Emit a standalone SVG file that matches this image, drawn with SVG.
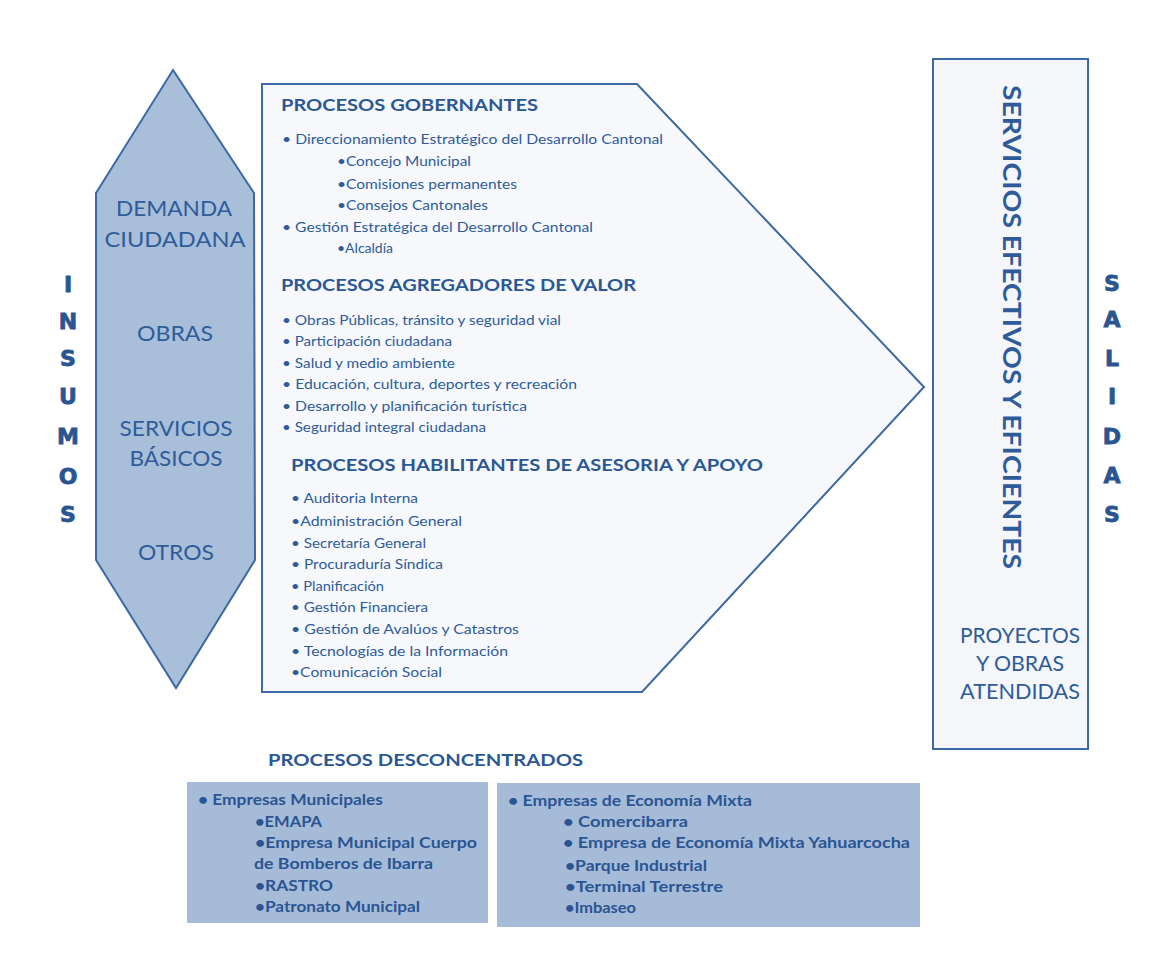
<svg xmlns="http://www.w3.org/2000/svg" width="1157" height="968" viewBox="0 0 1157 968">
<style>
.t{font-family:Lato,"Open Sans","Liberation Sans",sans-serif;fill:#2e5c9a}
.b{font-size:14px}
.h{font-size:17px;font-weight:bold;fill:#2b5894}
.k{font-size:21px;text-anchor:middle}
.big{font-family:"DejaVu Sans","Liberation Sans",sans-serif;font-size:22px;font-weight:bold;text-anchor:middle;fill:#2a5590;stroke:#2a5590;stroke-width:0.8}
.d{font-size:14.5px;font-weight:bold;fill:#2a5593}
.edge{stroke:#3b69a5;stroke-width:2;stroke-linejoin:miter}
</style>
<rect width="1157" height="968" fill="#ffffff"/>
<g id="connectors"/>

<g id="insumos-label">
<text class="big" x="68" y="292">I</text>
<text class="big" x="68" y="329">N</text>
<text class="big" x="68" y="366">S</text>
<text class="big" x="68" y="404">U</text>
<text class="big" x="68" y="444">M</text>
<text class="big" x="68" y="484">O</text>
<text class="big" x="68" y="522">S</text>
</g>

<g id="insumos">
<polygon class="edge" points="173,70 254,193 255,560 176,688 96,560 96,193" fill="#a9bed9"/>
<text class="t k" x="174" y="216" textLength="116" lengthAdjust="spacingAndGlyphs">DEMANDA</text>
<text class="t k" x="175" y="247" textLength="141" lengthAdjust="spacingAndGlyphs">CIUDADANA</text>
<text class="t k" x="175" y="341" textLength="76" lengthAdjust="spacingAndGlyphs">OBRAS</text>
<text class="t k" x="176" y="436" textLength="113" lengthAdjust="spacingAndGlyphs">SERVICIOS</text>
<text class="t k" x="176" y="466" textLength="93" lengthAdjust="spacingAndGlyphs">BÁSICOS</text>
<text class="t k" x="176" y="560" textLength="76" lengthAdjust="spacingAndGlyphs">OTROS</text>
</g>

<g id="procesos">
<polygon class="edge" points="262,84 637,84 924,387 642,692 262,692" fill="#f6f8fb"/>
<text class="t h" x="281" y="111" textLength="257" lengthAdjust="spacingAndGlyphs">PROCESOS GOBERNANTES</text>
<text class="t b" x="282" y="144" textLength="381" lengthAdjust="spacingAndGlyphs">• Direccionamiento Estratégico del Desarrollo Cantonal</text>
<text class="t b" x="337" y="166" textLength="134" lengthAdjust="spacingAndGlyphs">•Concejo Municipal</text>
<text class="t b" x="337" y="189" textLength="180" lengthAdjust="spacingAndGlyphs">•Comisiones permanentes</text>
<text class="t b" x="337" y="210" textLength="151" lengthAdjust="spacingAndGlyphs">•Consejos Cantonales</text>
<text class="t b" x="282" y="232" textLength="311" lengthAdjust="spacingAndGlyphs">• Gestión Estratégica del Desarrollo Cantonal</text>
<text class="t b" x="337" y="253" textLength="56" lengthAdjust="spacingAndGlyphs">•Alcaldía</text>

<text class="t h" x="281" y="291" textLength="355" lengthAdjust="spacingAndGlyphs">PROCESOS AGREGADORES DE VALOR</text>
<text class="t b" x="282" y="325" textLength="279" lengthAdjust="spacingAndGlyphs">• Obras Públicas, tránsito y seguridad vial</text>
<text class="t b" x="282" y="346" textLength="170" lengthAdjust="spacingAndGlyphs">• Participación ciudadana</text>
<text class="t b" x="282" y="368" textLength="173" lengthAdjust="spacingAndGlyphs">• Salud y medio ambiente</text>
<text class="t b" x="282" y="389" textLength="295" lengthAdjust="spacingAndGlyphs">• Educación, cultura, deportes y recreación</text>
<text class="t b" x="282" y="411" textLength="245" lengthAdjust="spacingAndGlyphs">• Desarrollo y planificación turística</text>
<text class="t b" x="282" y="432" textLength="204" lengthAdjust="spacingAndGlyphs">• Seguridad integral ciudadana</text>

<text class="t h" x="291" y="471" textLength="472" lengthAdjust="spacingAndGlyphs">PROCESOS HABILITANTES DE ASESORIA Y APOYO</text>
<text class="t b" x="291" y="503" textLength="127" lengthAdjust="spacingAndGlyphs">• Auditoria Interna</text>
<text class="t b" x="291" y="526" textLength="171" lengthAdjust="spacingAndGlyphs">•Administración General</text>
<text class="t b" x="291" y="548" textLength="135" lengthAdjust="spacingAndGlyphs">• Secretaría General</text>
<text class="t b" x="291" y="569" textLength="152" lengthAdjust="spacingAndGlyphs">• Procuraduría Síndica</text>
<text class="t b" x="291" y="591" textLength="93" lengthAdjust="spacingAndGlyphs">• Planificación</text>
<text class="t b" x="291" y="612" textLength="137" lengthAdjust="spacingAndGlyphs">• Gestión Financiera</text>
<text class="t b" x="291" y="634" textLength="228" lengthAdjust="spacingAndGlyphs">• Gestión de Avalúos y Catastros</text>
<text class="t b" x="291" y="656" textLength="217" lengthAdjust="spacingAndGlyphs">• Tecnologías de la Información</text>
<text class="t b" x="291" y="677" textLength="151" lengthAdjust="spacingAndGlyphs">•Comunicación Social</text>
</g>

<g id="salidas">
<rect class="edge" x="933" y="59" width="155" height="690" fill="#f4f6f9"/>
<text class="t" transform="translate(1003,327) rotate(90)" text-anchor="middle" font-size="24" font-weight="bold" textLength="484" lengthAdjust="spacingAndGlyphs">SERVICIOS EFECTIVOS Y EFICIENTES</text>
<text class="t k" x="1020" y="643" font-size="20" textLength="120" lengthAdjust="spacingAndGlyphs">PROYECTOS</text>
<text class="t k" x="1020" y="671" font-size="20" textLength="88" lengthAdjust="spacingAndGlyphs">Y OBRAS</text>
<text class="t k" x="1020" y="699" font-size="20" textLength="120" lengthAdjust="spacingAndGlyphs">ATENDIDAS</text>
</g>

<g id="salidas-label">
<text class="big" x="1112" y="291">S</text>
<text class="big" x="1112" y="327">A</text>
<text class="big" x="1112" y="366">L</text>
<text class="big" x="1112" y="404">I</text>
<text class="big" x="1112" y="444">D</text>
<text class="big" x="1112" y="483">A</text>
<text class="big" x="1112" y="522">S</text>
</g>

<g id="desconcentrados-title">
<text class="t h" x="268" y="766" textLength="315" lengthAdjust="spacingAndGlyphs">PROCESOS DESCONCENTRADOS</text>
</g>

<g id="empresas-municipales">
<rect x="187" y="782" width="301" height="141" fill="#a6bbd7"/>
<text class="t d" x="198" y="805" textLength="185" lengthAdjust="spacingAndGlyphs">• Empresas Municipales</text>
<text class="t d" x="255" y="827" textLength="67" lengthAdjust="spacingAndGlyphs">•EMAPA</text>
<text class="t d" x="255" y="848" textLength="222" lengthAdjust="spacingAndGlyphs">•Empresa Municipal Cuerpo</text>
<text class="t d" x="254" y="869" textLength="179" lengthAdjust="spacingAndGlyphs">de Bomberos de Ibarra</text>
<text class="t d" x="255" y="891" textLength="78" lengthAdjust="spacingAndGlyphs">•RASTRO</text>
<text class="t d" x="255" y="912" textLength="165" lengthAdjust="spacingAndGlyphs">•Patronato Municipal</text>
</g>

<g id="empresas-economia-mixta">
<rect x="497" y="783" width="423" height="144" fill="#a6bbd7"/>
<text class="t d" x="508" y="806" textLength="244" lengthAdjust="spacingAndGlyphs">• Empresas de Economía Mixta</text>
<text class="t d" x="563" y="827" textLength="125" lengthAdjust="spacingAndGlyphs">• Comercibarra</text>
<text class="t d" x="563" y="848" textLength="347" lengthAdjust="spacingAndGlyphs">• Empresa de Economía Mixta Yahuarcocha</text>
<text class="t d" x="565" y="871" textLength="142" lengthAdjust="spacingAndGlyphs">•Parque Industrial</text>
<text class="t d" x="565" y="892" textLength="158" lengthAdjust="spacingAndGlyphs">•Terminal Terrestre</text>
<text class="t d" x="565" y="913" textLength="71" lengthAdjust="spacingAndGlyphs">•Imbaseo</text>
</g>
</svg>
